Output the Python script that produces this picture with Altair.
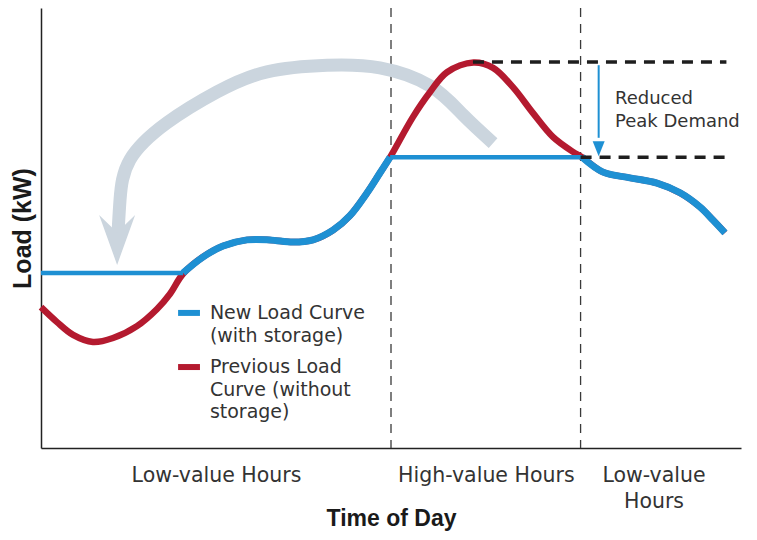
import altair as alt
import pandas as pd

# ---------------- data (x: hour of day 0-24, y: relative load 0-100) ----------------
prev_x = [0.00, 0.55, 1.10, 1.78, 2.47, 3.29, 3.98, 4.42, 4.87, 5.55, 6.24, 7.06, 7.85,
          8.64, 9.33, 10.01, 10.59, 11.18, 11.62, 11.97, 12.75, 13.34, 13.92, 14.83,
          15.50, 16.18, 16.87, 17.55, 18.24, 18.55, 19.27, 20.19, 21.12, 21.91,
          22.59, 23.04, 23.45]
prev_y = [32.0, 28.6, 25.7, 24.1, 25.0, 27.7, 31.6, 35.0, 39.6, 43.4, 45.9, 47.3, 47.3,
          46.8, 47.3, 49.5, 52.8, 58.0, 62.5, 66.1, 75.2, 80.9, 85.4, 87.6,
          86.4, 82.0, 76.1, 70.7, 67.3, 66.1, 62.7, 61.4, 60.2, 58.0,
          54.8, 51.8, 48.9]

new_x = [0.00, 4.87,
         4.87, 5.55, 6.24, 7.06, 7.85, 8.64, 9.33, 10.01, 10.59, 11.18, 11.62, 11.97,
         11.97, 18.55,
         18.55, 19.27, 20.19, 21.12, 21.91, 22.59, 23.04, 23.45]
new_y = [39.8, 39.8,
         39.8, 43.4, 45.9, 47.3, 47.3, 46.8, 47.3, 49.5, 52.8, 58.0, 62.5, 66.1,
         66.1, 66.1,
         66.1, 62.7, 61.4, 60.2, 58.0, 54.8, 51.8, 48.9]
new_seg = ["flat1"] * 2 + ["curve1"] * 12 + ["flat2"] * 2 + ["curve2"] * 8

# period boundaries and period labels
bounds = [12.0, 18.5]
cat_pos = [6.0, 15.25, 21.0]
cat_labels = ["Low-value Hours", "High-value Hours", "Low-value\nHours"]

# peak levels
old_peak = 87.7
new_peak = 66.1
peak_x_start = [14.81, 18.5]
peak_x_end = [23.5, 23.5]
peak_levels = [old_peak, new_peak]

# load-shift arrow (grey)
shift_x = [15.50, 14.47, 13.34, 11.62, 9.81, 7.75, 6.03, 4.32, 3.05, 2.71, 2.64, 2.61]
shift_y = [69.3, 75.7, 82.3, 86.4, 87.0, 85.5, 80.9, 73.9, 65.5, 56.4, 48.9, 47.3]

# reduced-peak arrow
red_arrow_x = 19.12
red_arrow_top = 87.0
red_arrow_bottom = 70.5
red_arrow_head = 68.0
note_x = 19.68
note_lines = ["Reduced", "Peak Demand"]
note_y = [79.3, 74.1]

# legend
leg_sw_x = [4.70, 4.70]
leg_sw_x2 = [5.45, 5.45]
leg_sw_y = [30.7, 18.4]
leg_series = ["New Load Curve (with storage)", "Previous Load Curve (without storage)"]
leg_text = ["New Load Curve", "(with storage)", "Previous Load", "Curve (without", "storage)"]
leg_text_y = [30.7, 25.5, 18.4, 13.2, 8.2]
leg_text_x = 5.79

BLUE = "#1e90d3"
RED = "#b41a2f"
GREY = "#cbd5de"
TXT = "#333333"
FONT = "DejaVu Sans"
TFONT = "Liberation Sans"

# ---------------- scales / axes ----------------
def lab(s):
    return "split('" + s.replace("\n", "|") + "', '|')"

expr = lab(cat_labels[-1])
for p, s in reversed(list(zip(cat_pos[:-1], cat_labels[:-1]))):
    expr = f"abs(datum.value - {p}) < 0.01 ? {lab(s)} : {expr}"

xs = alt.Scale(domain=[0, 24], nice=False, zero=False)
ys = alt.Scale(domain=[0, 100], nice=False, zero=False)

x_axis = alt.Axis(title="Time of Day", values=cat_pos, labelExpr=expr, ticks=False,
                  grid=False, domainColor="#222222", domainWidth=1.5,
                  labelFont=FONT, labelFontSize=20.5, labelColor=TXT, labelPadding=17,
                  labelLineHeight=26, labelOverlap=False, labelFlush=False,
                  titleFont=TFONT, titleFontSize=23, titleFontWeight="bold",
                  titleColor="#1a1a1a", titlePadding=-4)
y_axis = alt.Axis(title="Load (kW)", labels=False, ticks=False, grid=False,
                  domainColor="#222222", domainWidth=1.5,
                  titleFont=TFONT, titleFontSize=25, titleFontWeight="bold",
                  titleColor="#1a1a1a", titlePadding=6)

X = alt.X("x:Q", scale=xs, axis=x_axis)
Y = alt.Y("y:Q", scale=ys, axis=y_axis)

# ---------------- layers ----------------
vlines = alt.Chart(pd.DataFrame({"x": bounds})).mark_rule(
    color="#3a3a3a", strokeWidth=1.3, strokeDash=[9, 7]).encode(x=X)

shift_df = pd.DataFrame({"x": shift_x, "y": shift_y, "i": list(range(len(shift_x)))})
shift_line = alt.Chart(shift_df).mark_line(
    color=GREY, strokeWidth=13, interpolate="natural", strokeCap="butt").encode(
    x=X, y=Y, order="i:Q")
shift_head = alt.Chart(shift_df.tail(1)).mark_point(
    shape="M0,1L-0.72,-1L0,-0.3L0.72,-1Z", size=2500, filled=True,
    color=GREY, opacity=1, strokeWidth=0).encode(x=X, y=Y)

prev_line = alt.Chart(pd.DataFrame({"x": prev_x, "y": prev_y})).mark_line(
    color=RED, strokeWidth=6.5, interpolate="catmull-rom").encode(x=X, y=Y)

new_df = pd.DataFrame({"x": new_x, "y": new_y, "seg": new_seg})
new_curve = alt.Chart(new_df).transform_filter(
    "indexof(datum.seg, 'curve') == 0").mark_line(
    color=BLUE, strokeWidth=7, interpolate="catmull-rom").encode(
    x=X, y=Y, detail="seg:N")
new_flat = alt.Chart(new_df).transform_filter(
    "indexof(datum.seg, 'flat') == 0").mark_line(
    color=BLUE, strokeWidth=4.5).encode(x=X, y=Y, detail="seg:N")

hd = pd.DataFrame({"x": peak_x_start, "x2": peak_x_end, "y": peak_levels})
hlines = alt.Chart(hd).mark_rule(color="#1e1e1e", strokeWidth=3.5,
                                 strokeDash=[11, 8]).encode(
    x=X, x2=alt.X2("x2"), y=Y)

ad = pd.DataFrame({"x": [red_arrow_x], "y": [red_arrow_top], "y2": [red_arrow_bottom]})
arrow_rule = alt.Chart(ad).mark_rule(color=BLUE, strokeWidth=2).encode(
    x=X, y=Y, y2=alt.Y2("y2"))
arrow_head = alt.Chart(pd.DataFrame({"x": [red_arrow_x], "y": [red_arrow_head]})).mark_point(
    shape="M-0.8,-1L0.8,-1L0,1Z", size=225, filled=True, color=BLUE, opacity=1,
    strokeWidth=0).encode(x=X, y=Y)

note = alt.Chart(pd.DataFrame({"x": [note_x] * len(note_lines), "y": note_y,
                               "t": note_lines})).mark_text(
    align="left", baseline="middle", font=FONT, fontSize=18, color=TXT).encode(
    x=X, y=Y, text="t:N")

sw = pd.DataFrame({"x": leg_sw_x, "x2": leg_sw_x2, "y": leg_sw_y, "s": leg_series})
swatch = alt.Chart(sw).mark_rule(strokeWidth=6).encode(
    x=X, x2=alt.X2("x2"), y=Y,
    color=alt.Color("s:N", scale=alt.Scale(domain=leg_series, range=[BLUE, RED]),
                    legend=None))
leg = alt.Chart(pd.DataFrame({"x": [leg_text_x] * len(leg_text), "y": leg_text_y,
                              "t": leg_text})).mark_text(
    align="left", baseline="middle", font=FONT, fontSize=19, color=TXT).encode(
    x=X, y=Y, text="t:N")

chart = alt.layer(vlines, shift_line, shift_head, prev_line, new_curve, new_flat,
                  hlines, arrow_rule, arrow_head, note, swatch, leg).properties(
    width=700, height=440,
    autosize=alt.AutoSizeParams(type="none"),
    padding={"left": 33, "top": 0, "right": 8, "bottom": 84},
).configure_view(stroke=None)

chart.save("out.html", embed_options={"renderer": "svg", "actions": False})
